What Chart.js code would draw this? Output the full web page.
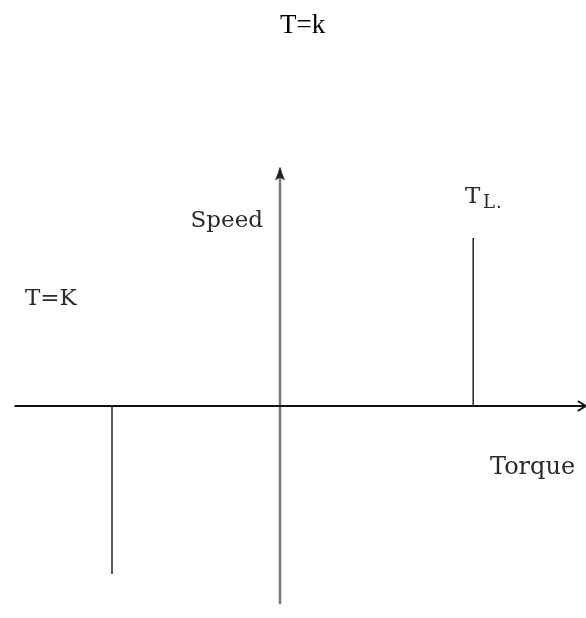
<!DOCTYPE html>
<html>
<head>
<meta charset="utf-8">
<script src="https://cdn.jsdelivr.net/npm/chart.js@4"></script>
<style>
  html, body { margin: 0; padding: 0; background: #fff; }
  #wrap { width: 586px; height: 618px; }
</style>
</head>
<body>
<div id="wrap"><canvas id="chart"></canvas></div>
<script>
// torque / speed values (one speed unit ~ one torque unit)
const loadTorque = [-1, 1.15]      // T=K branch, TL branch
const loadSpeed = [-1, 1]
const torqueAxisRange = [-1.58, 1.82]
const speedAxisRange = [-1.18, 1.42]

const labels = {
  title: 'T=k',
  speed: 'Speed',
  torque: 'Torque',
  tk: 'T=K',
  tl: 'T',
  tlSub: 'L',
}

const xMin = -280 / 168
const xMax = 306 / 168
const yMax = 406 / 168
const yMin = -212 / 168

// draw texts and arrow heads on top of the scatter lines
const sketchPlugin = {
  id: 'sketch',
  afterDatasetsDraw(chart) {
    const ctx = chart.ctx
    const x = chart.scales.x
    const y = chart.scales.y
    ctx.save()

    // arrow on torque axis (open chevron)
    const hx = x.getPixelForValue(torqueAxisRange[1])
    const hy = y.getPixelForValue(0)
    ctx.strokeStyle = '#111'
    ctx.lineWidth = 2
    ctx.beginPath()
    ctx.moveTo(hx - 8, hy - 5)
    ctx.lineTo(hx, hy)
    ctx.lineTo(hx - 8, hy + 5)
    ctx.stroke()

    // arrow on speed axis (filled)
    const vx = x.getPixelForValue(0)
    const vy = y.getPixelForValue(speedAxisRange[1])
    ctx.fillStyle = '#222'
    ctx.beginPath()
    ctx.moveTo(vx, vy)
    ctx.lineTo(vx - 5, vy + 13)
    ctx.lineTo(vx, vy + 10)
    ctx.lineTo(vx + 5, vy + 13)
    ctx.closePath()
    ctx.fill()

    ctx.fillStyle = '#000'
    ctx.textBaseline = 'alphabetic'
    ctx.textAlign = 'left'
    ctx.font = '27px "Liberation Serif"'
    ctx.fillText(labels.title, 280, 33)

    ctx.fillStyle = '#2a2a2a'
    ctx.font = '23px "DejaVu Serif"'
    ctx.textAlign = 'right'
    ctx.fillText(labels.speed, 263, 227)
    ctx.textAlign = 'left'
    ctx.fillText(labels.tk, 25, 305)
    ctx.font = '24px "DejaVu Serif"'
    ctx.fillText(labels.torque, 490, 474)
    ctx.font = '23px "DejaVu Serif"'
    ctx.fillText(labels.tl, 465, 203)
    ctx.font = '18px "DejaVu Serif"'
    ctx.fillText(labels.tlSub, 483, 208)
    ctx.fillText('.', 496, 208)

    ctx.restore()
  },
}

new Chart(document.getElementById('chart').getContext('2d'), {
  type: 'scatter',
  data: {
    datasets: [
      {
        label: 'torque axis',
        data: [{ x: torqueAxisRange[0], y: 0 }, { x: torqueAxisRange[1], y: 0 }],
        showLine: true,
        borderColor: '#111',
        borderWidth: 2,
        pointRadius: 0,
      },
      {
        label: 'speed axis',
        data: [{ x: 0, y: speedAxisRange[0] }, { x: 0, y: speedAxisRange[1] }],
        showLine: true,
        borderColor: '#777',
        borderWidth: 2.5,
        pointRadius: 0,
      },
      {
        label: 'T=K',
        data: [{ x: loadTorque[0], y: 0 }, { x: loadTorque[0], y: loadSpeed[0] }],
        showLine: true,
        borderColor: '#222',
        borderWidth: 1.5,
        pointRadius: 0,
      },
      {
        label: 'TL',
        data: [{ x: loadTorque[1], y: 0 }, { x: loadTorque[1], y: loadSpeed[1] }],
        showLine: true,
        borderColor: '#222',
        borderWidth: 1.5,
        pointRadius: 0,
      },
    ],
  },
  options: {
    responsive: true,
    maintainAspectRatio: false,
    animation: false,
    layout: { padding: 0 },
    plugins: {
      legend: { display: false },
      tooltip: { enabled: false },
    },
    scales: {
      x: { type: 'linear', min: xMin, max: xMax, display: false },
      y: { type: 'linear', min: yMin, max: yMax, display: false },
    },
  },
  plugins: [sketchPlugin],
})
</script>
</body>
</html>
